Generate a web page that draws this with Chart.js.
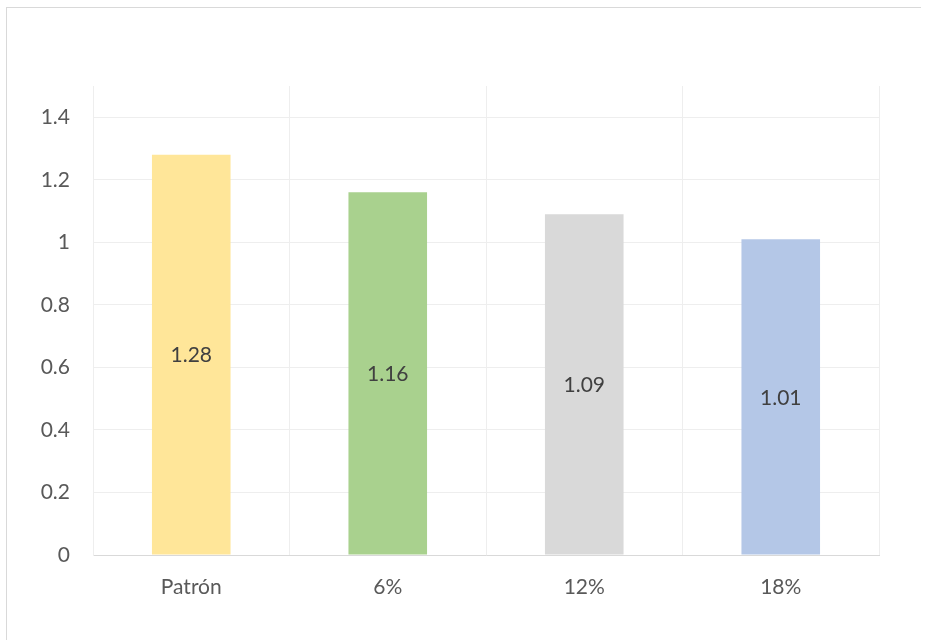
<!DOCTYPE html>
<html>
<head>
<meta charset="utf-8">
<script src="https://cdn.jsdelivr.net/npm/chart.js@4/dist/chart.umd.min.js"></script>
<style>
  html, body { margin: 0; padding: 0; background: #fff; }
  #wrap { position: relative; width: 929px; height: 640px; }
  #frame {
    position: absolute; left: 6px; top: 7px; width: 914px; height: 640px;
    border-left: 1px solid #d9d9d9; border-top: 1px solid #d9d9d9;
  }
  canvas { position: absolute; left: 0; top: 0; }
</style>
</head>
<body>
<div id="wrap">
  <div id="frame"></div>
  <canvas id="barChart" width="929" height="640"></canvas>
</div>
<script>
const categories = ['Patrón', '6%', '12%', '18%'];
const values = [1.28, 1.16, 1.09, 1.01];
const barColors = ['#FFE699', '#A9D18E', '#D9D9D9', '#B4C7E7'];
const yTicks = [0, 0.2, 0.4, 0.6, 0.8, 1, 1.2, 1.4];

const FONT = 'Lato, "Open Sans", sans-serif';

// value text in the middle of each bar
const barValueLabels = {
  id: 'barValueLabels',
  afterDatasetsDraw(chart) {
    const ctx = chart.ctx;
    const meta = chart.getDatasetMeta(0);
    ctx.save();
    ctx.font = '21px ' + FONT;
    ctx.fillStyle = '#404040';
    ctx.textAlign = 'center';
    ctx.textBaseline = 'middle';
    meta.data.forEach((bar, i) => {
      const v = chart.data.datasets[0].data[i];
      ctx.fillText(v.toFixed(2), bar.x, (bar.y + bar.base) / 2 + 1);
    });
    ctx.restore();
  }
};

new Chart(document.getElementById('barChart'), {
  type: 'bar',
  data: {
    labels: categories,
    datasets: [{
      data: values,
      backgroundColor: barColors,
      borderWidth: 0,
      barPercentage: 0.4,
      categoryPercentage: 1
    }]
  },
  options: {
    responsive: false,
    animation: false,
    layout: { padding: { left: 0, top: 86, right: 50, bottom: 0 } },
    plugins: {
      legend: { display: false },
      tooltip: { enabled: false }
    },
    scales: {
      x: {
        offset: true,
        grid: { color: '#eeeeee', lineWidth: 1, drawTicks: false, offset: true },
        border: { color: '#d9d9d9' },
        ticks: { color: '#595959', font: { family: FONT, size: 21 }, padding: 20 },
        afterFit: s => { s.height = 85; }
      },
      y: {
        min: 0,
        max: 1.5,
        afterBuildTicks: s => { s.ticks = yTicks.map(v => ({ value: v })); },
        grid: { color: '#eeeeee', lineWidth: 1, drawTicks: false },
        border: { color: '#eeeeee' },
        ticks: {
          color: '#595959',
          font: { family: FONT, size: 21 },
          padding: 23,
          callback: v => String(+v.toFixed(1))
        },
        afterFit: s => { s.width = 93; }
      }
    }
  },
  plugins: [barValueLabels]
});
</script>
</body>
</html>
